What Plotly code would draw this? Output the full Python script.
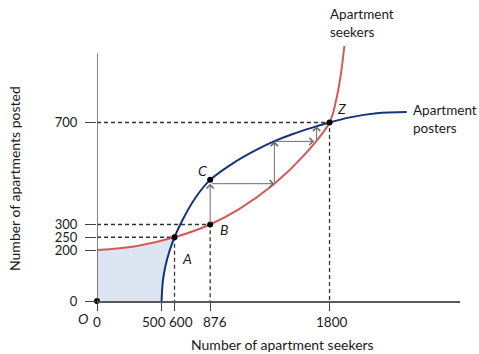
import plotly.graph_objects as go

# ---------------- data ----------------
# Apartment seekers curve (red)
seekers_x = [0, 300, 600, 876, 1100, 1373, 1600, 1800, 1850, 1885, 1915]
seekers_y = [200, 215, 250, 300, 360, 460, 570, 700, 785, 880, 1000]
# Apartment posters curve (blue)
posters_x = [500, 510, 530, 560, 600, 653, 762, 876, 1076, 1241, 1370, 1516, 1681, 1800, 1958, 2165, 2397]
posters_y = [0, 79, 137, 194, 250, 309, 405, 475, 548, 595, 626, 655, 682, 700, 720, 736, 741]

# labelled points
point_names = ["O", "A", "B", "C", "Z"]
point_x = [0, 600, 876, 876, 1800]
point_y = [0, 250, 300, 475, 700]

# dashed guide lines go to these points
guide_x = [600, 876, 1800]
guide_y = [250, 300, 700]

# staircase arrows: (tail -> head)
stair_tail_x = [876, 876, 1373, 1373, 1700]
stair_tail_y = [300, 460, 460, 626, 626]
stair_head_x = [876, 1373, 1373, 1680, 1700]
stair_head_y = [460, 460, 626, 626, 685]

x_ticks = [0, 500, 600, 876, 1800]
y_ticks = [0, 200, 250, 300, 700]

RED = "#d35a57"
BLUE = "#15337a"
FILL = "#dce6f2"
DASH = "#333333"
AXIS = "#595959"
FONT = "Lato"
TXT = "#1a1a1a"

fig = go.Figure()

# shaded area: under red up to A, minus area right of blue
n_a = seekers_x.index(600)
fig.add_trace(go.Scatter(x=seekers_x[:n_a + 1], y=seekers_y[:n_a + 1], mode="lines",
                         line=dict(width=0, shape="spline", color=FILL), fill="tozeroy",
                         fillcolor=FILL, hoverinfo="skip", showlegend=False))
m_a = posters_x.index(600)
fig.add_trace(go.Scatter(x=posters_x[:m_a + 1], y=posters_y[:m_a + 1], mode="lines",
                         line=dict(width=0, shape="spline", color="white"), fill="tozeroy",
                         fillcolor="white", hoverinfo="skip", showlegend=False))

# dashed guides
for gx, gy in zip(guide_x, guide_y):
    fig.add_trace(go.Scatter(x=[0, gx, gx], y=[gy, gy, 0], mode="lines",
                             line=dict(color=DASH, width=1.3, dash="4px,3px"),
                             hoverinfo="skip", showlegend=False))

# curves
fig.add_trace(go.Scatter(x=seekers_x, y=seekers_y, mode="lines",
                         line=dict(color=RED, width=2, shape="spline"),
                         hoverinfo="skip", showlegend=False))
fig.add_trace(go.Scatter(x=posters_x, y=posters_y, mode="lines",
                         line=dict(color=BLUE, width=2, shape="spline"),
                         hoverinfo="skip", showlegend=False))

# points
fig.add_trace(go.Scatter(x=point_x, y=point_y, mode="markers",
                         marker=dict(color="black", size=6),
                         hoverinfo="skip", showlegend=False, cliponaxis=False))

annotations = []
# staircase arrows
for tx, ty, hx, hy in zip(stair_tail_x, stair_tail_y, stair_head_x, stair_head_y):
    annotations.append(dict(x=hx, y=hy, ax=tx, ay=ty, xref="x", yref="y", axref="x", ayref="y",
                            text="", showarrow=True, arrowhead=4, arrowsize=1.4,
                            arrowwidth=1, arrowcolor="#6b6b6b", standoff=0))

# x tick labels (staggered slightly as in the original)
x_label_shift = {0: 0, 500: -8, 600: 6, 876: 5, 1800: 2}
for v in x_ticks:
    annotations.append(dict(x=v, y=0, xref="x", yref="y", text=str(v), showarrow=False,
                            xanchor="center", yanchor="middle", xshift=x_label_shift[v], yshift=-21,
                            font=dict(family=FONT, size=13.5, color=TXT)))

# point labels
label_shift = {"O": (-14, -17), "A": (12, -21), "B": (14, -5), "C": (-8, 9), "Z": (12, 14)}
for nm, px, py in zip(point_names, point_x, point_y):
    sx, sy = label_shift[nm]
    annotations.append(dict(x=px, y=py, xref="x", yref="y", text=nm, showarrow=False,
                            xshift=sx, yshift=sy,
                            font=dict(family=FONT, size=14, color=TXT, style="italic")))

# curve labels
annotations.append(dict(x=seekers_x[-1], y=seekers_y[-1], xref="x", yref="y",
                        text="Apartment<br>seekers", showarrow=False, align="left",
                        xanchor="left", yanchor="middle", xshift=-16, yshift=23,
                        font=dict(family=FONT, size=13.5, color=TXT)))
annotations.append(dict(x=posters_x[-1], y=posters_y[-1], xref="x", yref="y",
                        text="Apartment<br>posters", showarrow=False, align="left",
                        xanchor="left", yanchor="middle", xshift=4, yshift=-7,
                        font=dict(family=FONT, size=13.5, color=TXT)))

# axis titles
annotations.append(dict(x=(282 - 97) / 363, y=-(344 - 301) / 261, xref="paper", yref="paper",
                        text="Number of apartment seekers", showarrow=False,
                        xanchor="center", yanchor="middle",
                        font=dict(family=FONT, size=14, color=TXT)))
annotations.append(dict(x=(14 - 97) / 363, y=(301 - 179) / 261, xref="paper", yref="paper",
                        text="Number of apartments posted", showarrow=False, textangle=-90,
                        xanchor="center", yanchor="middle",
                        font=dict(family=FONT, size=14, color=TXT)))

fig.update_layout(
    width=479, height=354,
    margin=dict(l=97, r=19, t=40, b=53, autoexpand=False),
    paper_bgcolor="white", plot_bgcolor="white",
    annotations=annotations,
    shapes=[dict(type="line", xref="x", yref="y", x0=0, x1=0, y0=0, y1=972,
                 line=dict(color=AXIS, width=1.5))],
    font=dict(family=FONT, size=13, color=TXT),
)
fig.update_xaxes(range=[0, 2810], showline=True, linecolor=AXIS, linewidth=1.5,
                 ticks="outside", ticklen=8, tickwidth=1.3, tickcolor="#404040",
                 tickvals=x_ticks, showticklabels=False, automargin=False,
                 showgrid=False, zeroline=False, fixedrange=True)
fig.update_yaxes(range=[0, 1023.5], showline=False, automargin=False,
                 ticks="outside", ticklen=11, tickwidth=1.3, tickcolor="#404040",
                 tickvals=y_ticks, ticktext=[str(v) for v in y_ticks],
                 showgrid=False, zeroline=False, fixedrange=True, ticklabelstandoff=5,
                 tickfont=dict(family=FONT, size=13, color=TXT))

fig.write_html("out.html", config={"displayModeBar": False},
               post_script="document.body.style.margin='0';document.body.style.overflow='hidden';")
